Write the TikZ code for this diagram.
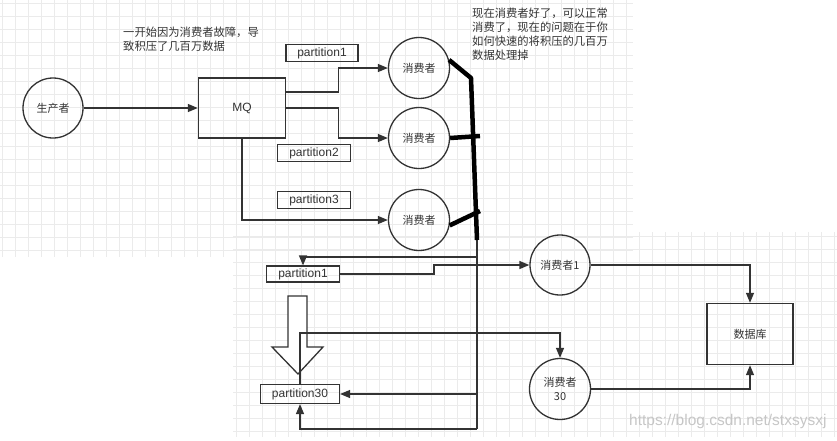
\documentclass[tikz,border=0pt]{standalone}
\usepackage{fontspec}
\setmainfont{Liberation Sans}
\newfontfamily\cjk{Noto Sans CJK SC}
\usetikzlibrary{arrows.meta}
\usetikzlibrary{calc}
\usetikzlibrary{positioning}
\definecolor{ink}{HTML}{333333}
\definecolor{gridgray}{HTML}{EBEBEB}

\begin{document}
\begin{tikzpicture}[x=1pt,y=-1pt]
    \tikzset{every node/.style={text=ink, font=\fontsize{12}{14}\selectfont}}
    \tikzset{gridline/.style={draw=gridgray, line width=0.8pt}}
    \tikzset{consumer/.style={circle, draw=ink, line width=1.3pt, minimum size=61pt, inner sep=0pt, align=center, font=\cjk\fontsize{11}{14}\selectfont}}
    \tikzset{box/.style={rectangle, draw=ink, line width=1.4pt, inner sep=0pt}}
    \tikzset{tag/.style={box, line width=1.2pt, minimum height=17pt}}
    \tikzset{note/.style={anchor=north west, align=left, inner sep=0pt, font=\cjk\fontsize{11.3}{13.8}\selectfont}}
    \tikzset{link/.style={draw=ink, line width=1.3pt, -{Triangle[length=10pt,width=8pt]}}}
    \tikzset{plain/.style={draw=ink, line width=1.3pt}}
    \tikzset{marker/.style={draw=black, line width=4.5pt, line join=round}}
    \useasboundingbox (0,0) rectangle (837,440);
    % background grid
    \foreach \gx in {2,15,...,632} \draw[gridline] (\gx,0) -- (\gx,257);
    \foreach \gy in {3,16,...,256} \draw[gridline] (0,\gy) -- (633,\gy);
    \foreach \gx in {236,249,...,836} \draw[gridline] (\gx,232) -- (\gx,437);
    \foreach \gy in {236,249,...,436} \draw[gridline] (233,\gy) -- (837,\gy);
    % upper part
    \node[consumer, minimum size=60pt] (producer) at (53,108) {生产者};
    \node[box, minimum width=87pt, minimum height=60pt] (mq) at (242,108) {MQ};
    \node[consumer] (consumerA) at (419,68) {消费者};
    \node[consumer] (consumerB) at (419,138) {消费者};
    \node[consumer] (consumerC) at (419,220) {消费者};
    \node[tag, minimum width=72pt] (partA) at (322,53) {partition1};
    \node[tag, minimum width=73pt] (partB) at (314,153) {partition2};
    \node[tag, minimum width=73pt] (partC) at (314,200) {partition3};
    \node[note] (noteA) at (123,27) {一开始因为消费者故障，导\\致积压了几百万数据};
    \node[note] (noteB) at (472,8) {现在消费者好了，可以正常\\消费了，现在的问题在于你\\如何快速的将积压的几百万\\数据处理掉};
    \draw[link] (producer) -- (mq);
    \draw[link] ($(mq.east)+(0,-16)$) -- ++(52,0) |- (consumerA.west);
    \draw[link] (mq.east) -- ++(52,0) |- (consumerB.west);
    \draw[link] (mq.south) |- (consumerC.west);
    % lower part
    \node[consumer, minimum size=60pt, font=\cjk\fontsize{11}{14}\selectfont] (consumer1) at (560,265) {消费者1};
    \node[consumer] (consumer30) at (560,389) {消费者\\30};
    \node[box, minimum width=86pt, minimum height=61pt, font=\cjk\fontsize{11}{14}\selectfont] (db) at (750,334) {数据库};
    \node[tag, minimum width=73pt, minimum height=16pt] (part1) at (303,274) {partition1};
    \node[tag, minimum width=79pt, minimum height=19pt] (part30) at (300,394) {partition30};
    \coordinate (bend) at (471,78);
    \coordinate (busTop) at (477,240);
    \coordinate (tapA) at (477,257);
    \coordinate (tapB) at (477,394);
    \coordinate (busBot) at (477,429);
    \draw[plain, fill=white] (288,296) -- (307,296) -- (307,347) -- (323,347)
        -- (298,374) -- (272,347) -- (288,347) -- cycle;
    \draw[plain] (busTop) -- (busBot);
    \draw[link] (tapA) -| (part1.north);
    \draw[link] (part1.east) -- ++(94,0) |- (consumer1.west);
    \draw[link] (part30.north) -- ++(0,-51) -| (consumer30.north);
    \draw[link] (tapB) -- (part30.east);
    \draw[link] (busBot) -| (part30.south);
    \draw[link] (consumer1.east) -| (db.north);
    \draw[link] (consumer30.east) -| (db.south);
    % hand drawn marks
    \draw[marker] (consumerA.15) -- (bend) -- (busTop);
    \draw[marker] (consumerB.east) -- (480,136);
    \draw[marker] (consumerC.-10) -- (480,211);
    \node[anchor=east, text=gray!45, font=\fontsize{15.5}{16}\selectfont] (mark) at (830,421) {https://blog.csdn.net/stxsysxj};
\end{tikzpicture}
\end{document}
